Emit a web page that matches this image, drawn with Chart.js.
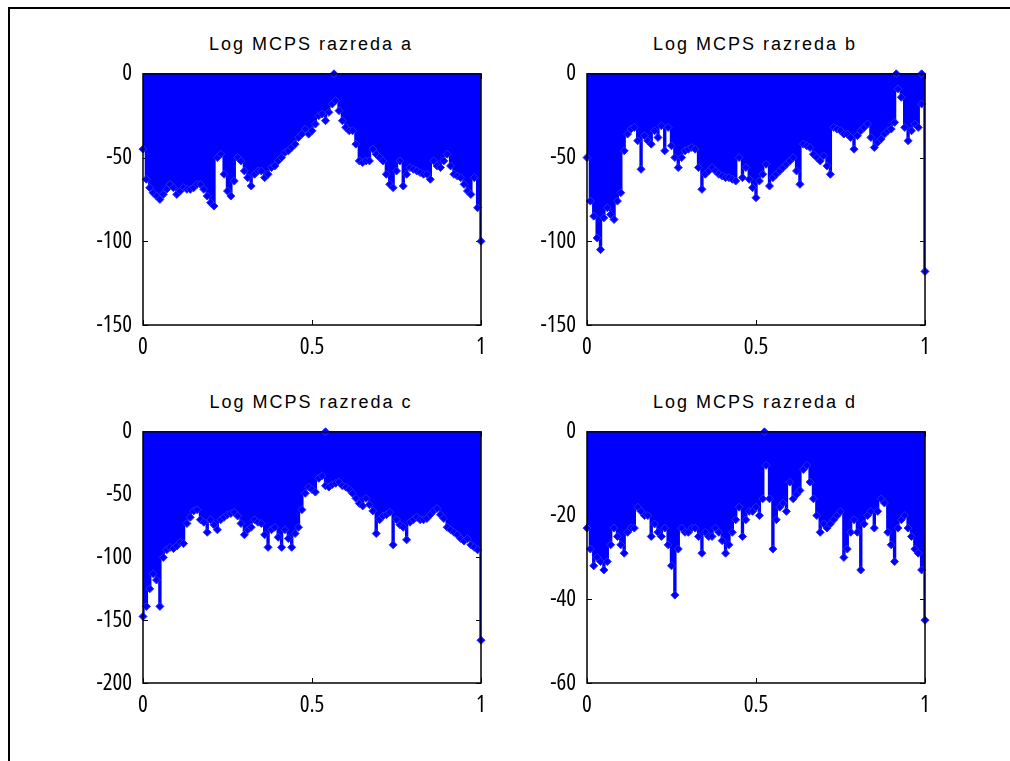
<!DOCTYPE html>
<html lang="sl">
<head>
  <meta charset="UTF-8" />
  <title>Log MCPS razreda</title>
  <style>
    body { margin:0; background:#fff; width:1010px; height:761px; overflow:hidden; position:relative; font-family:'Liberation Sans', Arial, sans-serif; }
    .frame { position:absolute; left:8px; top:7px; right:-5px; bottom:-5px; border-top:2px solid #000; border-left:2px solid #000; }
    .ttl { position:absolute; width:340px; line-height:18px; text-align:center; font-size:18px; letter-spacing:2px; color:#000; white-space:nowrap; }
    canvas { position:absolute; }
  </style>
  <script src="https://cdn.jsdelivr.net/npm/chart.js"></script>
</head>
<body>
  <div class="frame"></div>

  <div class="ttl" style="left:141px; top:35px;">Log MCPS razreda a</div>
  <div class="ttl" style="left:585px; top:35px;">Log MCPS razreda b</div>
  <div class="ttl" style="left:141px; top:393px;">Log MCPS razreda c</div>
  <div class="ttl" style="left:585px; top:393px;">Log MCPS razreda d</div>

  <canvas id="cA" width="423" height="308" style="left:73px; top:57px;"></canvas>
  <canvas id="cB" width="423" height="308" style="left:517px; top:57px;"></canvas>
  <canvas id="cC" width="423" height="308" style="left:73px; top:415px;"></canvas>
  <canvas id="cD" width="423" height="308" style="left:517px; top:415px;"></canvas>

  <script>
    // normalized frequency
    const freq = [
      0, 0.01, 0.02, 0.03, 0.04, 0.05, 0.06, 0.07, 0.08, 0.09,
      0.1, 0.11, 0.12, 0.13, 0.14, 0.15, 0.16, 0.17, 0.18, 0.19,
      0.2, 0.21, 0.22, 0.23, 0.24, 0.25, 0.26, 0.27, 0.28, 0.29,
      0.3, 0.31, 0.32, 0.33, 0.34, 0.35, 0.36, 0.37, 0.38, 0.39,
      0.4, 0.41, 0.42, 0.43, 0.44, 0.45, 0.46, 0.47, 0.48, 0.49,
      0.5, 0.51, 0.52, 0.53, 0.54, 0.55, 0.56, 0.57, 0.58, 0.59,
      0.6, 0.61, 0.62, 0.63, 0.64, 0.65, 0.66, 0.67, 0.68, 0.69,
      0.7, 0.71, 0.72, 0.73, 0.74, 0.75, 0.76, 0.77, 0.78, 0.79,
      0.8, 0.81, 0.82, 0.83, 0.84, 0.85, 0.86, 0.87, 0.88, 0.89,
      0.9, 0.91, 0.92, 0.93, 0.94, 0.95, 0.96, 0.97, 0.98, 0.99,
      1
    ];

    const aVals = [
      -45, -63, -68, -71, -73, -75, -72, -69, -66, -68,
      -72, -70, -68, -69, -69, -68, -66, -66, -69, -73,
      -77, -79, -50, -48, -60, -70, -73, -64, -50, -52,
      -58, -62, -67, -60, -58, -58, -62, -60, -56, -55,
      -52, -50, -47, -46, -44, -42, -38, -36, -33, -36,
      -34, -30, -25, -24, -28, -23, -18, -16, -22, -28,
      -32, -34, -34, -42, -52, -53, -52, -52, -45, -48,
      -50, -52, -60, -66, -68, -58, -52, -67, -60, -56,
      -57, -58, -59, -60, -60, -63, -52, -55, -56, -52,
      -48, -55, -60, -61, -62, -66, -70, -72, -62, -80,
      -100
    ];
    const bVals = [
      -50, -76, -85, -98, -105, -86, -80, -84, -87, -76,
      -71, -46, -36, -33, -32, -40, -57, -37, -40, -42,
      -34, -38, -31, -46, -32, -43, -50, -56, -50, -46,
      -45, -44, -45, -56, -69, -60, -58, -56, -58, -60,
      -61, -62, -62, -63, -64, -50, -62, -56, -63, -68,
      -74, -64, -60, -54, -67, -62, -60, -58, -56, -54,
      -52, -50, -58, -66, -42, -43, -44, -48, -50, -52,
      -49, -55, -60, -32, -33, -34, -36, -36, -38, -45,
      -37, -34, -32, -30, -38, -44, -41, -39, -36, -34,
      -33, -29, -9, -14, -32, -40, -34, -30, -32, -18,
      -118
    ];
    const cVals = [
      -147, -139, -125, -113, -118, -139, -100, -94, -92, -93,
      -91, -88, -89, -73, -68, -63, -62, -70, -72, -80,
      -70, -74, -78, -70, -68, -66, -65, -64, -67, -73,
      -82, -78, -76, -70, -72, -73, -82, -92, -78, -76,
      -84, -92, -78, -85, -92, -81, -76, -62, -49, -44,
      -46, -48, -37, -35, -43, -44, -42, -41, -40, -43,
      -44, -46, -49, -53, -57, -59, -53, -58, -63, -81,
      -70, -67, -66, -64, -90, -70, -74, -76, -86, -72,
      -70, -68, -70, -70, -69, -66, -63, -61, -66, -69,
      -76, -78, -80, -82, -85, -87, -85, -90, -92, -94,
      -166
    ];
    const dVals = [
      -23, -28, -32, -30, -31, -33, -31, -27, -23, -25,
      -27, -29, -24, -23, -23, -18, -19, -20, -20, -25,
      -22, -24, -25, -23, -27, -32, -39, -28, -23, -24,
      -24, -23, -23, -25, -29, -24, -25, -25, -23, -24,
      -26, -29, -27, -24, -21, -18, -25, -21, -19, -19,
      -18, -20, -16, -8, -16, -28, -21, -18, -17, -19,
      -12, -16, -15, -14, -9, -8, -12, -16, -20, -24,
      -22, -23, -22, -21, -20, -19, -30, -28, -24, -21,
      -24, -33, -22, -20, -19, -23, -19, -16, -17, -24,
      -27, -31, -23, -21, -20, -23, -25, -28, -29, -33,
      -45
    ];

    // stems that reach the 0 dB maximum
    const aPeaks = [0.565];
    const bPeaks = [0.915, 0.99];
    const cPeaks = [0.54];
    const dPeaks = [0.525];

    // y axis: [min, step]
    const aAxis = [-150, 50];
    const bAxis = [-150, 50];
    const cAxis = [-200, 50];
    const dAxis = [-60, 20];

    const BLUE = '#0000ff';
    // weight slot carries the stretch keyword -> "condensed 23px 'Open Sans'"
    const tickFont = { family: "'Open Sans', 'Liberation Sans', sans-serif", size: 23, weight: 'condensed' };

    // matlab-like box with inward ticks
    const boxPlugin = {
      id: 'boxPlugin',
      beforeDatasetsDraw(chart) {
        const { ctx, chartArea: a, scales: { x, y } } = chart;
        ctx.save();
        ctx.strokeStyle = '#000';
        ctx.lineWidth = 1;
        ctx.beginPath();
        x.ticks.forEach(t => {
          const px = Math.round(x.getPixelForValue(t.value)) + 0.5;
          ctx.moveTo(px, a.bottom); ctx.lineTo(px, a.bottom - 5);
          ctx.moveTo(px, a.top); ctx.lineTo(px, a.top + 5);
        });
        y.ticks.forEach(t => {
          const py = Math.round(y.getPixelForValue(t.value)) + 0.5;
          ctx.moveTo(a.left, py); ctx.lineTo(a.left + 5, py);
          ctx.moveTo(a.right, py); ctx.lineTo(a.right - 5, py);
        });
        ctx.stroke();
        ctx.restore();
      },
      afterDatasetsDraw(chart) {
        const { ctx, chartArea: a } = chart;
        ctx.save();
        ctx.strokeStyle = '#000';
        ctx.lineWidth = 1.5;
        ctx.strokeRect(a.left, a.top, a.right - a.left, a.bottom - a.top);
        ctx.restore();
      }
    };

    function makeStem(id, vals, peaks, axis) {
      const pts = vals.map((v, i) => ({ x: freq[i], y: v }));
      new Chart(document.getElementById(id), {
        type: 'scatter',
        data: {
          datasets: [
            {
              // dense stems: step outline filled up to the 0 baseline
              type: 'line',
              data: pts,
              stepped: 'middle',
              fill: 'origin',
              backgroundColor: BLUE,
              borderColor: BLUE,
              borderWidth: 0,
              pointRadius: 0,
              order: 2
            },
            {
              type: 'scatter',
              data: pts,
              pointStyle: 'rectRot',
              pointRadius: 4,
              backgroundColor: BLUE,
              borderColor: '#2a2aff',
              borderWidth: 1,
              clip: false,
              order: 1
            },
            {
              type: 'scatter',
              data: peaks.map(p => ({ x: p, y: 0 })),
              pointStyle: 'rectRot',
              pointRadius: 4,
              backgroundColor: BLUE,
              borderColor: '#2a2aff',
              borderWidth: 1,
              clip: false,
              order: 0
            }
          ]
        },
        options: {
          responsive: false,
          animation: false,
          layout: { padding: { top: 16, right: 15, left: 0, bottom: 0 } },
          plugins: { legend: { display: false }, tooltip: { enabled: false }, title: { display: false } },
          scales: {
            x: {
              type: 'linear',
              offset: false,
              min: 0, max: 1,
              grid: { display: false },
              border: { display: false },
              ticks: { stepSize: 0.5, padding: 1, color: '#000', font: tickFont, maxRotation: 0,
                       callback: v => String(v) },
              afterFit: s => { s.height = 40; }
            },
            y: {
              min: axis[0], max: 0,
              grid: { display: false },
              border: { display: false },
              ticks: { stepSize: axis[1], padding: 3, color: '#000', font: tickFont },
              afterFit: s => { s.width = 70; }
            }
          }
        },
        plugins: [boxPlugin]
      });
    }

    makeStem('cA', aVals, aPeaks, aAxis);
    makeStem('cB', bVals, bPeaks, bAxis);
    makeStem('cC', cVals, cPeaks, cAxis);
    makeStem('cD', dVals, dPeaks, dAxis);
  </script>
</body>
</html>
